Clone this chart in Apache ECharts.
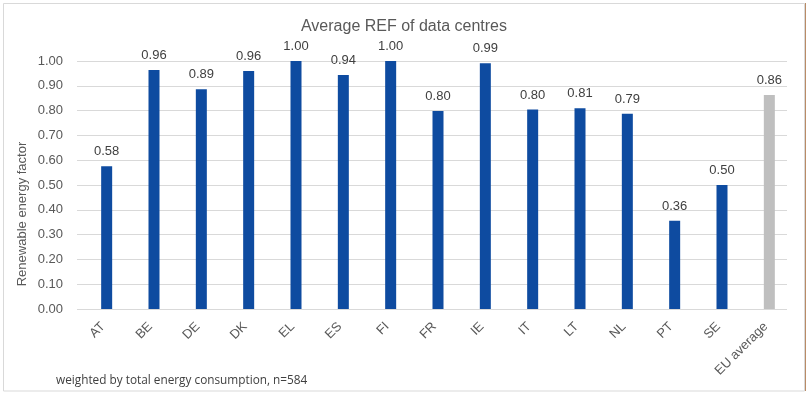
<!DOCTYPE html>
<html>
<head>
<meta charset="utf-8">
<script src="https://cdn.jsdelivr.net/npm/echarts@6/dist/echarts.min.js"></script>
<style>html,body{margin:0;padding:0;background:#fff}#c{width:808px;height:395px}</style>
</head>
<body>
<div id="c"></div>
<script>
const categories = ['AT','BE','DE','DK','EL','ES','FI','FR','IE','IT','LT','NL','PT','SE','EU average'];
const values = [0.576, 0.964, 0.886, 0.96, 1.0, 0.944, 1.0, 0.798, 0.991, 0.804, 0.809, 0.787, 0.356, 0.5, 0.863];
const yTicks = {min: 0, max: 1, interval: 0.1};
const titleText = 'Average REF of data centres';
const yName = 'Renewable energy factor';
const footnote = 'weighted by total energy consumption, n=584';

const chart = echarts.init(document.getElementById('c'), null, {renderer: 'canvas'});
const font = 'Liberation Sans, Arial, sans-serif';
chart.setOption({
  animation: false,
  backgroundColor: '#fff',
  title: {
    text: titleText, left: 'center', top: 14,
    textStyle: {fontFamily: font, fontSize: 16, fontWeight: 'normal', color: '#595959'}
  },
  grid: [
    {left: 83, width: 710, top: 61, bottom: 86},
    {left: 77, width: 710, top: 61, bottom: 86}
  ],
  xAxis: [
    {type: 'category', gridIndex: 0, data: categories,
     axisLine: {show: false}, axisTick: {show: false},
     axisLabel: {rotate: 45, margin: 12, padding: [0, 5, 0, 0], fontFamily: font, fontSize: 13, color: '#595959', interval: 0}},
    {type: 'value', gridIndex: 1, show: false, min: 0, max: 1}
  ],
  yAxis: [
    {type: 'value', gridIndex: 0, min: yTicks.min, max: yTicks.max, interval: yTicks.interval, show: false},
    {type: 'value', gridIndex: 1, min: yTicks.min, max: yTicks.max, interval: yTicks.interval,
     axisLine: {show: false}, axisTick: {show: false},
     splitLine: {lineStyle: {color: '#d9d9d9', width: 1}},
     axisLabel: {margin: 14, fontFamily: font, fontSize: 13, color: '#595959',
       formatter: v => v.toFixed(2)}}
  ],
  series: [{
    type: 'bar', xAxisIndex: 0, yAxisIndex: 0, barWidth: 11,
    data: values.map((v, i) => ({value: v, itemStyle: {color: i === values.length - 1 ? '#BFBFBF' : '#0E4BA0'}})),
    label: {show: true, position: 'top', distance: 8, fontFamily: font, fontSize: 13, color: '#404040',
      formatter: p => p.value.toFixed(2)}
  }],
  graphic: [
    {type: 'rect', shape: {x: 3.5, y: 3.5, width: 801, height: 387.5}, style: {fill: null, stroke: '#d9d9d9', lineWidth: 1}, silent: true},
    {type: 'line', shape: {x1: 805.5, y1: 3, x2: 805.5, y2: 391}, style: {stroke: '#b98b66', lineWidth: 1}, silent: true},
    {type: 'text', x: 22, y: 214, rotation: Math.PI / 2,
     style: {text: yName, fontFamily: font, fontSize: 13, fill: '#595959', align: 'center', verticalAlign: 'middle'}},
    {type: 'text', x: 56, y: 381,
     style: {text: footnote, fontFamily: 'Open Sans, sans-serif', fontSize: 11.8, fill: '#404040', align: 'left', verticalAlign: 'middle'}}
  ]
});
</script>
</body>
</html>
